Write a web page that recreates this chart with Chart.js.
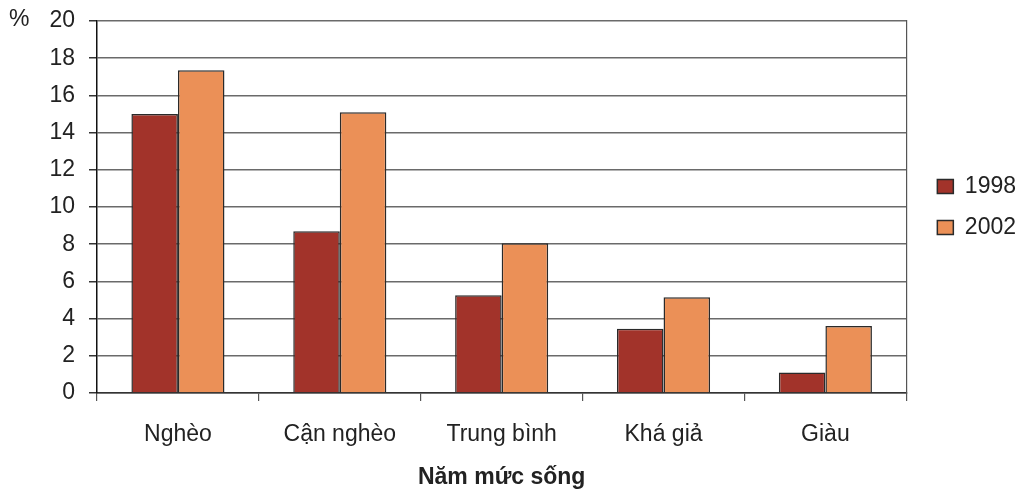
<!DOCTYPE html>
<html>
<head>
<meta charset="utf-8">
<script src="https://cdn.jsdelivr.net/npm/chart.js@4"></script>
<style>
  body { margin: 0; background: #fff; }
  #wrap { position: relative; width: 1020px; height: 493px; }
  #pct { position: absolute; left: 9px; top: 5px; font: 23px "Liberation Sans", Arial, sans-serif; color: #222; }
</style>
</head>
<body>
<div id="wrap">
  <canvas id="chart"></canvas>
  <div id="pct">%</div>
</div>
<script>
// categories and values
const categories = ["Nghèo", "Cận nghèo", "Trung bình", "Khá giả", "Giàu"];
const years = ["1998", "2002"];
const values1998 = [15.0, 8.7, 5.25, 3.45, 1.1];
const values2002 = [17.35, 15.1, 8.05, 5.15, 3.6];
const yTicks = [0, 2, 4, 6, 8, 10, 12, 14, 16, 18, 20];

const FONT = "'Liberation Sans', Arial, sans-serif";
const TXT = "#222";

Chart.defaults.font.family = FONT;
Chart.defaults.color = TXT;

// keep the legend centred on the plot area, just right of it
const legendPlace = {
  id: "legendPlace",
  afterLayout(chart) {
    const lg = chart.legend, area = chart.chartArea;
    const w = lg.width;
    lg.left = area.right + 13;
    lg.right = lg.left + w;
    lg.top = area.top;
    lg.bottom = area.bottom;
    lg.height = area.bottom - area.top;
  }
};

const ctx = document.getElementById("chart").getContext("2d");
new Chart(ctx, {
  type: "bar",
  data: {
    labels: categories,
    datasets: [{
      label: years[0],
      data: values1998,
      backgroundColor: "#a2332a",
      borderColor: "#2a2a2a",
      borderWidth: 1.5
    }, {
      label: years[1],
      data: values2002,
      backgroundColor: "#eb9057",
      borderColor: "#2a2a2a",
      borderWidth: 1.5
    }]
  },
  plugins: [legendPlace],
  options: {
    responsive: true,
    maintainAspectRatio: false,
    animation: false,
    layout: { padding: { left: 0, top: 21, right: 0, bottom: 0 } },
    datasets: { bar: { categoryPercentage: 0.575, barPercentage: 1.0 } },
    plugins: {
      tooltip: { enabled: false },
      legend: {
        position: "right",
        labels: {
          boxWidth: 16,
          boxHeight: 14,
          padding: 18,
          font: { size: 23 },
          color: TXT
        }
      }
    },
    scales: {
      x: {
        grid: { offset: true, drawOnChartArea: false, tickLength: 8, color: "#555", lineWidth: 1.2 },
        border: { color: "#333", width: 1.5 },
        ticks: { font: { size: 23 }, color: TXT, padding: 20 },
        title: { display: true, text: "Năm mức sống", font: { size: 23, weight: "bold" }, color: TXT, padding: { top: 10, bottom: 2 } },
        afterFit: function(axis) { axis.height = 100; }
      },
      y: {
        min: 0,
        max: 20,
        afterBuildTicks: function(axis) { axis.ticks = yTicks.map(v => ({ value: v })); },
        grid: { color: "#6a6a6a", lineWidth: 1.5, tickLength: 8, tickColor: "#333" },
        border: { color: "#111", width: 1.5 },
        ticks: { font: { size: 23 }, color: TXT, padding: 14 },
        afterFit: function(axis) {
          axis.width = 97;
          axis.paddingTop = 0;
          axis.paddingBottom = 0;
        }
      },
      y2: {
        position: "right",
        min: 0,
        max: 20,
        grid: { drawOnChartArea: false, drawTicks: false },
        border: { color: "#555", width: 1.2 },
        ticks: { display: false },
        afterFit: function(axis) { axis.width = 7; }
      }
    }
  }
});
</script>
</body>
</html>
